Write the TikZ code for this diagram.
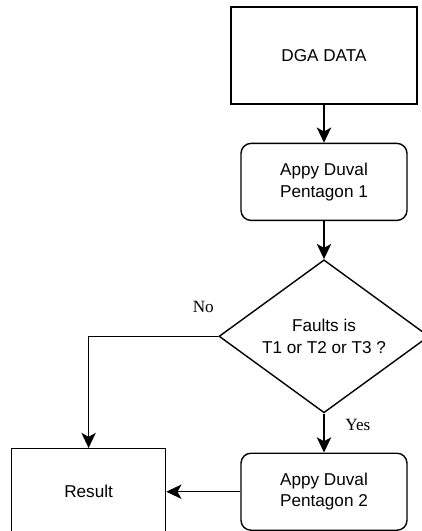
\documentclass[tikz,border=0pt]{standalone}
\usepackage{fontspec}
\setmainfont{Liberation Serif}
\setsansfont{Liberation Sans}
\usetikzlibrary{positioning,shapes.geometric,arrows.meta}
\begin{document}
\begin{tikzpicture}[boxsty/.style={draw,line width=1pt,font=\sffamily\fontsize{12.2}{15.2}\selectfont,align=center},
    procsty/.style={boxsty,rounded corners=0.25cm,minimum width=4.15cm,minimum height=1.925cm},
    arrsty/.style={line width=1pt,-{Stealth[length=0.38cm,width=0.36cm,inset=0.1cm]}},
    lblsty/.style={font=\fontsize{12.2}{14}\selectfont}]
  \useasboundingbox (-8.1,1.3875) rectangle (2.425,-11.8875);
  \node[boxsty,minimum width=4.65cm,minimum height=2.425cm] (dga) {DGA DATA};
  \node[procsty,below=0.95cm of dga] (pent1) {Appy Duval\\Pentagon 1};
  \draw[arrsty] (dga) -- (pent1);
  % decision
  \node[boxsty,diamond,aspect=1.37,inner sep=0pt,minimum width=5.25cm,
    minimum height=3.825cm,below=0.95cm of pent1] (fault) {Faults is\\T1 or T2 or T3 ?};
  \draw[arrsty] (pent1) -- (fault);
  % yes branch
  \node[procsty,below=0.975cm of fault] (pent2) {Appy Duval\\Pentagon 2};
  \draw[arrsty] (fault) -- node[lblsty,pos=0.3,right=0.4cm] (yes) {Yes} (pent2);
  % no branch
  \node[boxsty,minimum width=3.85cm,minimum height=2.15cm,left=1.85cm of pent2] (res) {Result};
  \draw[arrsty] (fault.west) -| (res.north);
  \node[lblsty] (no) at ([shift={(-0.375,0.725)}]fault.west) {No};
  \draw[arrsty] (pent2) -- (res);
\end{tikzpicture}
\end{document}
